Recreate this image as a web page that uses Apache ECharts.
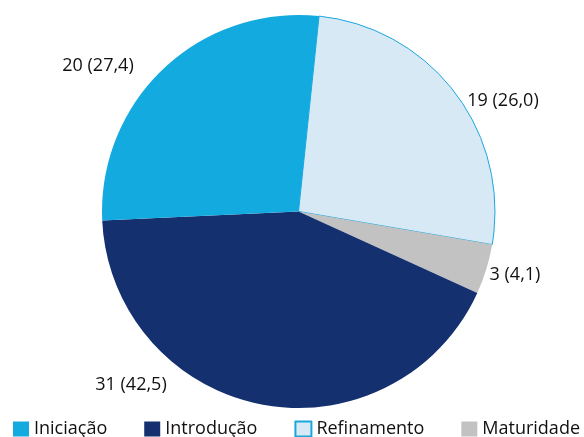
<!DOCTYPE html>
<html><head><meta charset="utf-8">
<script src="https://cdn.jsdelivr.net/npm/echarts@6/dist/echarts.min.js"></script>
<style>html,body{margin:0;padding:0;background:#fff}#c{width:584px;height:437px}</style>
</head><body><div id="c"></div>
<script>
var categories = ['Refinamento', 'Maturidade', 'Introdução', 'Iniciação'];
var values = [19, 3, 31, 20];
var percents = ['26,0', '4,1', '42,5', '27,4'];
var legendOrder = ['Iniciação', 'Introdução', 'Refinamento', 'Maturidade'];

var colors = {'Refinamento': '#d8e9f6', 'Maturidade': '#c2c2c2', 'Introdução': '#14306f', 'Iniciação': '#13abdf'};
var labelCenters = [[503, 101], [515, 275], [131, 385], [98, 66]];

var chart = echarts.init(document.getElementById('c'));
var data = categories.map(function (n, i) {
  var it = {name: n, value: values[i], itemStyle: {color: colors[n]}};
  if (n === 'Refinamento') { it.itemStyle.borderColor = '#1aa7dd'; it.itemStyle.borderWidth = 1; }
  return it;
});
chart.setOption({
  animation: false,
  textStyle: {fontFamily: 'Open Sans'},
  legend: {
    data: legendOrder,
    left: 13, top: 420, padding: 0,
    itemWidth: 16, itemHeight: 15, itemGap: 37,
    icon: 'rect',
    textStyle: {fontFamily: 'Open Sans', fontSize: 18, color: '#111'}
  },
  series: [{
    type: 'pie',
    center: [298.5, 211.5],
    radius: [0, 196.5],
    startAngle: 84,
    clockwise: true,
    data: data,
    label: {
      show: true, position: 'outside', overflow: 'none', width: 200,
      fontFamily: 'Open Sans', fontSize: 18, color: '#111',
      formatter: function (p) { return p.value + ' (' + percents[p.dataIndex] + ')'; }
    },
    labelLine: {show: false},
    labelLayout: function (p) {
      var c = labelCenters[p.dataIndex];
      return {x: c[0], y: c[1], align: 'center', verticalAlign: 'middle'};
    },
    emphasis: {disabled: true}
  }]
});
</script></body></html>
